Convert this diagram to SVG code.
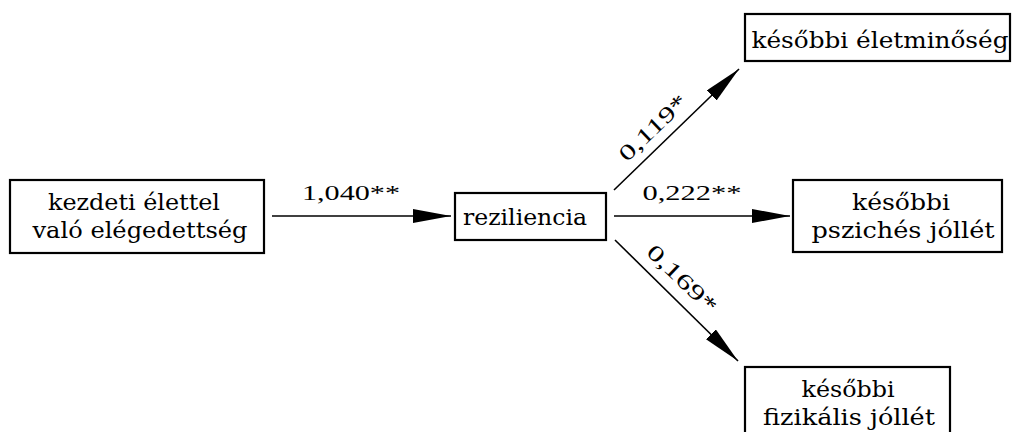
<svg xmlns="http://www.w3.org/2000/svg" width="1012" height="432" viewBox="0 0 1012 432">
  <style>
    .box { fill: #ffffff; stroke: #000000; stroke-width: 2.2; }
    .edge { stroke: #000000; stroke-width: 1.6; fill: none; marker-end: url(#head); }
    .t { font-family: 'DejaVu Serif', serif; font-size: 22px; text-anchor: middle; fill: #000000; }
    .n { font-family: 'Times New Roman', 'Liberation Serif', serif; font-size: 22px; text-anchor: middle; fill: #000000; }
  </style>
  <defs>
    <marker id="head" markerUnits="userSpaceOnUse" markerWidth="40" markerHeight="16" refX="38" refY="7" orient="auto">
      <path d="M0,0 L38,7 L0,14 Z" fill="#000000"/>
    </marker>
  </defs>

  <rect width="1012" height="432" fill="#ffffff"/>

  <!-- connectors -->
  <g id="connectors">
    <line class="edge" x1="272" y1="216" x2="451" y2="216"/>
    <line class="edge" x1="614" y1="216" x2="790" y2="216"/>
    <line class="edge" x1="614" y1="190" x2="739" y2="69"/>
    <line class="edge" x1="615" y1="240" x2="738" y2="361"/>
    <text class="n" x="351" y="200" textLength="98" lengthAdjust="spacingAndGlyphs">1,040**</text>
    <text class="n" x="692" y="200" textLength="99" lengthAdjust="spacingAndGlyphs">0,222**</text>
    <text class="n" transform="translate(658,133) rotate(-44)" textLength="86" lengthAdjust="spacingAndGlyphs">0,119*</text>
    <text class="n" transform="translate(677,284) rotate(44)" textLength="88" lengthAdjust="spacingAndGlyphs">0,169*</text>
  </g>

  <!-- nodes -->
  <g id="node-elegedettseg">
    <rect class="box" x="10" y="180" width="254" height="73"/>
    <text class="t" x="134" y="210" textLength="172" lengthAdjust="spacingAndGlyphs">kezdeti élettel</text>
    <text class="t" x="140" y="238" textLength="215" lengthAdjust="spacingAndGlyphs">való elégedettség</text>
  </g>
  <g id="node-reziliencia">
    <rect class="box" x="455" y="193" width="151" height="47"/>
    <text class="t" x="525" y="225" textLength="124" lengthAdjust="spacingAndGlyphs">reziliencia</text>
  </g>
  <g id="node-eletminoseg">
    <rect class="box" x="745" y="14" width="265" height="47"/>
    <text class="t" x="880" y="48" textLength="257" lengthAdjust="spacingAndGlyphs">későbbi életminőség</text>
  </g>
  <g id="node-psziches">
    <rect class="box" x="793" y="180" width="209" height="72"/>
    <text class="t" x="901" y="210" textLength="98" lengthAdjust="spacingAndGlyphs">későbbi</text>
    <text class="t" x="903" y="238" textLength="183" lengthAdjust="spacingAndGlyphs">pszichés jóllét</text>
  </g>
  <g id="node-fizikalis">
    <rect class="box" x="745" y="367" width="205" height="80"/>
    <text class="t" x="848" y="397" textLength="93" lengthAdjust="spacingAndGlyphs">későbbi</text>
    <text class="t" x="849" y="425" textLength="172" lengthAdjust="spacingAndGlyphs">fizikális jóllét</text>
  </g>
</svg>
